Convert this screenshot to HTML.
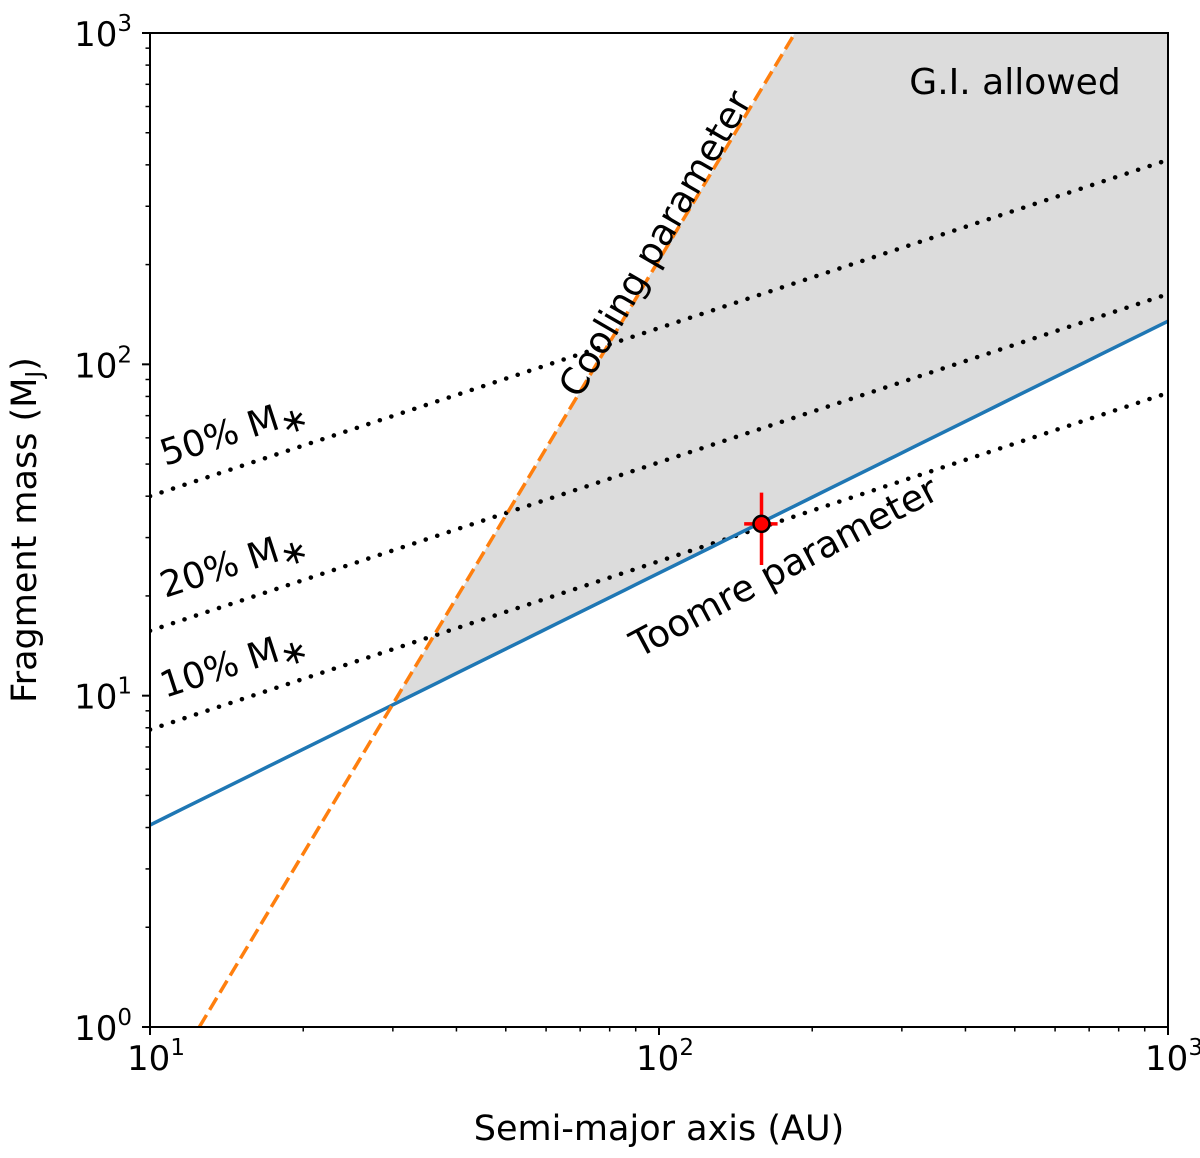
<!DOCTYPE html>
<html><head><meta charset="utf-8"><style>
html,body{margin:0;padding:0;background:#fff;}
svg{display:block;font-family:"DejaVu Sans","Liberation Sans",sans-serif;}
</style></head><body>
<svg id="chart" width="1200" height="1158" viewBox="0 0 1200 1158"></svg>
<script>
const xDomain = [1, 3];
const yDomain = [0, 3];
const xTickExps = [1, 2, 3];
const yTickExps = [0, 1, 2, 3];
const toomreA = [10, 1000];
const toomreM = [4.07, 135];
const coolingA = [12.5, 185];
const coolingM = [1, 1000];
const fracLabels = ["50% M", "20% M", "10% M"];
const fracA = [10, 1000];
const frac50M = [40, 414];
const frac20M = [15.7, 163];
const frac10M = [7.9, 82];
const pointA = [159];
const pointM = [33];
const pointAErr = [147, 171];
const pointMErr = [24.8, 41];

const L=150,R=1168,T=33,B=1027;
const NS="http://www.w3.org/2000/svg";
const svg=document.getElementById('chart');
function X(a){return L+(Math.log10(a)-xDomain[0])/(xDomain[1]-xDomain[0])*(R-L);}
function Y(m){return B-(Math.log10(m)-yDomain[0])/(yDomain[1]-yDomain[0])*(B-T);}
function el(tag,attrs,parent){const e=document.createElementNS(NS,tag);for(const k in attrs)e.setAttribute(k,attrs[k]);(parent||svg).appendChild(e);return e;}
function pl(as,ms){const k=Math.log10(ms[1]/ms[0])/Math.log10(as[1]/as[0]);return a=>ms[0]*Math.pow(a/as[0],k);}
const toomre=pl(toomreA,toomreM), cooling=pl(coolingA,coolingM);
const coolInv=m=>coolingA[0]*Math.pow(m/coolingM[0],Math.log10(coolingA[1]/coolingA[0])/Math.log10(coolingM[1]/coolingM[0]));

const defs=el('defs',{});
const cp=el('clipPath',{id:'clip'},defs);el('rect',{x:L,y:T,width:R-L,height:B-T},cp);
const g=el('g',{'clip-path':'url(#clip)'});

let lo=10,hi=1000;for(let i=0;i<60;i++){const mid=Math.sqrt(lo*hi);if(cooling(mid)<toomre(mid))lo=mid;else hi=mid;}
const ax=lo;
let pts=[];const aTop=coolInv(1000);
for(let i=0;i<=40;i++){const a=ax*Math.pow(aTop/ax,i/40);pts.push([X(a),Y(cooling(a))]);}
pts.push([X(1000),Y(1000)]);
for(let i=0;i<=40;i++){const a=1000*Math.pow(ax/1000,i/40);pts.push([X(a),Y(toomre(a))]);}
const shade=el('polygon',{points:pts.map(p=>p.join(',')).join(' '),fill:'#dcdcdc'},g);



function line(f,a0,a1,attrs,name){const p=[];for(let i=0;i<=60;i++){const a=a0*Math.pow(a1/a0,i/60);p.push(X(a)+','+Y(f(a)));}
 const e=el('polyline',Object.assign({points:p.join(' '),fill:'none'},attrs),g);
 
 }
const fr=[frac50M,frac20M,frac10M],frn=['line-50pct','line-20pct','line-10pct'];
fr.forEach((m,i)=>line(pl(fracA,m),10,1000,{stroke:'#000','stroke-width':4.5,'stroke-dasharray':'0.1 12','stroke-linecap':'round'},frn[i]));
line(toomre,10,1000,{stroke:'#1f77b4','stroke-width':3.5},'toomre-line');
line(cooling,coolingA[0],coolInv(1000),{stroke:'#ff7f0e','stroke-width':3.5,'stroke-dasharray':'14 6'},'cooling-line');

const eb1=el('line',{x1:X(pointAErr[0]),x2:X(pointAErr[1]),y1:Y(pointM[0]),y2:Y(pointM[0]),stroke:'#ff0000','stroke-width':3.5});

const eb2=el('line',{x1:X(pointA[0]),x2:X(pointA[0]),y1:Y(pointMErr[0]),y2:Y(pointMErr[1]),stroke:'#ff0000','stroke-width':3.5});

const pt=el('circle',{cx:X(pointA[0]),cy:Y(pointM[0]),r:8,fill:'#ff0000',stroke:'#000','stroke-width':2.5});


const fm=el('rect',{x:L,y:T,width:R-L,height:B-T,fill:'none',stroke:'#000','stroke-width':2});


for(let e=1;e<3;e++)for(let k=1;k<10;k++){const x=X(k*Math.pow(10,e));const len=k==1?8:4.5;
 el('line',{x1:x,x2:x,y1:B,y2:B+len,stroke:'#000','stroke-width':k==1?2:1.5});}
el('line',{x1:R,x2:R,y1:B,y2:B+8,stroke:'#000','stroke-width':2});
for(let e=0;e<3;e++)for(let k=1;k<10;k++){const y=Y(k*Math.pow(10,e));const len=k==1?8:4.5;
 el('line',{x1:L-len,x2:L,y1:y,y2:y,stroke:'#000','stroke-width':k==1?2:1.5});}
el('line',{x1:L-8,x2:L,y1:T,y2:T,stroke:'#000','stroke-width':2});

function tickLabel(x,y,exp,anchor,name){const t=el('text',{x:x,y:y,'font-size':34,'text-anchor':anchor,fill:'#000'});
 t.textContent='10';const s=el('tspan',{'font-size':23,dy:-15},t);s.textContent=exp;
 }
xTickExps.forEach(e=>tickLabel(X(Math.pow(10,e))+6,1070,e,'middle','x-tick-label'));
yTickExps.forEach(e=>tickLabel(132,Y(Math.pow(10,e))+13,e,'end','y-tick-label'));

function txt(s,x,y,size,rot,name,anchor){const t=el('text',{x:x,y:y,'font-size':size,'text-anchor':anchor||'middle',fill:'#000',transform:rot?`rotate(${rot} ${x} ${y})`:''});
 t.textContent=s;return t;}
txt('Semi-major axis (AU)',659,1140,35,0,'x-axis-title');
const yt=txt('Fragment mass (M',36,530,35,-90,'y-axis-title');
const sub=el('tspan',{'font-size':23,dy:6},yt);sub.textContent='J';
const cl=el('tspan',{'font-size':35,dy:-6},yt);cl.textContent=')';
txt('G.I. allowed',1015,94,36,0,'gi-allowed-label');
txt('Cooling parameter',666,250,37,-60,'cooling-parameter-label');
txt('Toomre parameter',790,578,37,-28,'toomre-parameter-label');
const ly=[466,598,698];
fracLabels.forEach((s,i)=>{const t=txt(s,165,ly[i],36,-18,'fraction-label','start');const st=el('tspan',{'font-size':34,dy:8},t);st.textContent='∗';});
</script>
</body></html>
